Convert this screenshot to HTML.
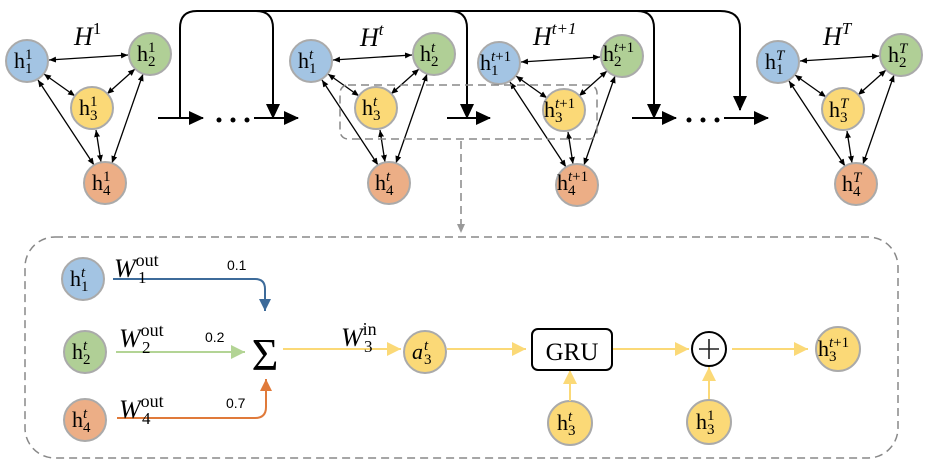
<!DOCTYPE html>
<html><head><meta charset="utf-8"><style>
body{margin:0;background:#fff}
svg{display:block;font-family:"Liberation Serif",serif}
.n{stroke:#aaa;stroke-width:2}
.b{fill:#a3c4e3}.g{fill:#b0cf96}.y{fill:#fbd977}.o{fill:#ecae86}
.e{stroke:#000;stroke-width:1.3;fill:none;marker-start:url(#as);marker-end:url(#ae)}
.h{font-size:22px}.s{font-size:15px}
</style></head><body>
<svg width="932" height="470" viewBox="0 0 932 470">
<defs>
<marker id="ae" markerWidth="8" markerHeight="8" refX="7" refY="4" orient="auto" markerUnits="userSpaceOnUse"><path d="M0,1 L7,4 L0,7z"/></marker>
<marker id="as" markerWidth="8" markerHeight="8" refX="1" refY="4" orient="auto" markerUnits="userSpaceOnUse"><path d="M8,1 L1,4 L8,7z"/></marker>
<marker id="big" markerWidth="16" markerHeight="16" refX="14" refY="8" orient="auto" markerUnits="userSpaceOnUse"><path d="M0,1 L15,8 L0,15z"/></marker>
<marker id="gr" markerWidth="10" markerHeight="10" refX="8" refY="5" orient="auto" markerUnits="userSpaceOnUse"><path d="M0,1 L9,5 L0,9z" fill="#999"/></marker>
<marker id="yb" markerWidth="16" markerHeight="16" refX="14" refY="8" orient="auto" markerUnits="userSpaceOnUse"><path d="M0,1 L14,8 L0,15z" fill="#fbd977"/></marker>
<marker id="bb" markerWidth="16" markerHeight="16" refX="12" refY="7" orient="auto" markerUnits="userSpaceOnUse"><path d="M0,1 L12,7 L0,13z" fill="#3d6b9a"/></marker>
<marker id="gb" markerWidth="16" markerHeight="16" refX="14" refY="8" orient="auto" markerUnits="userSpaceOnUse"><path d="M0,1 L14,8 L0,15z" fill="#b3d495"/></marker>
<marker id="ob" markerWidth="16" markerHeight="16" refX="12" refY="7" orient="auto" markerUnits="userSpaceOnUse"><path d="M0,1 L12,7 L0,13z" fill="#e07a3a"/></marker>
<g id="edges">
<line class="e" x1="49" y1="60" x2="128" y2="55"/>
<line class="e" x1="44" y1="74" x2="75" y2="96"/>
<line class="e" x1="135" y1="69" x2="107" y2="94"/>
<line class="e" x1="38" y1="80" x2="94" y2="165"/>
<line class="e" x1="143" y1="74" x2="112" y2="163"/>
<line class="e" x1="96" y1="130" x2="101" y2="162"/>
<circle class="n b" cx="27" cy="61" r="21"/>
<circle class="n g" cx="150" cy="54" r="21"/>
<circle class="n y" cx="92" cy="108" r="21"/>
<circle class="n o" cx="105" cy="183" r="21"/>
</g>
</defs>

<g stroke="#000" stroke-width="2" fill="none">
<path d="M180,118 V28 Q180,11 197,11 H720 Q740,11 740,28 V110" marker-end="url(#big)"/>
<path d="M256,11 Q273,11 273,28 V118" marker-end="url(#big)"/>
<path d="M254,118 H298" marker-end="url(#big)"/>
<path d="M158,118 H203" marker-end="url(#big)"/>
<path d="M450,11 Q467,11 467,28 V118" marker-end="url(#big)"/>
<path d="M447,118 H490" marker-end="url(#big)"/>
<path d="M637,11 Q654,11 654,28 V118" marker-end="url(#big)"/>
<path d="M632,118 H676" marker-end="url(#big)"/>
<path d="M724,118 H768" marker-end="url(#big)"/>
</g>
<g fill="#000"><circle cx="219" cy="120" r="2.5"/><circle cx="233" cy="120" r="2.5"/><circle cx="247" cy="120" r="2.5"/>
<circle cx="689" cy="120" r="2.5"/><circle cx="703" cy="120" r="2.5"/><circle cx="717" cy="120" r="2.5"/></g>

<use href="#edges"/>
<use href="#edges" transform="translate(284,0)"/>
<use href="#edges" transform="translate(472,2)"/>
<use href="#edges" transform="translate(751,1)"/>

<g font-style="italic" font-size="26">
<text x="74" y="45">H<tspan font-size="17" dy="-11" font-style="normal">1</tspan></text>
<text x="360" y="46">H<tspan font-size="17" dy="-11">t</tspan></text>
<text x="533" y="45">H<tspan font-size="17" dy="-11">t+1</tspan></text>
<text x="823" y="45">H<tspan font-size="17" dy="-11">T</tspan></text>
</g>

<text class="h" x="14" y="68">h</text><text class="s" x="25" y="59">1</text><text class="s" x="25" y="73">1</text>
<text class="h" x="137" y="61">h</text><text class="s" x="148" y="52">1</text><text class="s" x="148" y="66">2</text>
<text class="h" x="79" y="115">h</text><text class="s" x="90" y="106">1</text><text class="s" x="90" y="120">3</text>
<text class="h" x="92" y="190">h</text><text class="s" x="103" y="181">1</text><text class="s" x="103" y="195">4</text>

<text class="h" x="298" y="68">h</text><text class="s" x="309" y="59" font-style="italic">t</text><text class="s" x="309" y="73">1</text>
<text class="h" x="420" y="61">h</text><text class="s" x="431" y="52" font-style="italic">t</text><text class="s" x="431" y="66">2</text>
<text class="h" x="362" y="115">h</text><text class="s" x="373" y="106" font-style="italic">t</text><text class="s" x="373" y="120">3</text>
<text class="h" x="375" y="190">h</text><text class="s" x="386" y="181" font-style="italic">t</text><text class="s" x="386" y="195">4</text>

<text class="h" x="480" y="70">h</text><text class="s" x="491" y="61"><tspan font-style="italic">t</tspan>+1</text><text class="s" x="491" y="75">1</text>
<text class="h" x="603" y="61">h</text><text class="s" x="614" y="52"><tspan font-style="italic">t</tspan>+1</text><text class="s" x="614" y="66">2</text>
<text class="h" x="544" y="117">h</text><text class="s" x="555" y="108"><tspan font-style="italic">t</tspan>+1</text><text class="s" x="555" y="122">3</text>
<text class="h" x="557" y="190">h</text><text class="s" x="568" y="181"><tspan font-style="italic">t</tspan>+1</text><text class="s" x="568" y="195">4</text>

<text class="h" x="765" y="69">h</text><text class="s" x="776" y="60" font-style="italic">T</text><text class="s" x="776" y="74">1</text>
<text class="h" x="888" y="62">h</text><text class="s" x="899" y="53" font-style="italic">T</text><text class="s" x="899" y="67">2</text>
<text class="h" x="829" y="117">h</text><text class="s" x="840" y="108" font-style="italic">T</text><text class="s" x="840" y="122">3</text>
<text class="h" x="842" y="191">h</text><text class="s" x="853" y="182" font-style="italic">T</text><text class="s" x="853" y="196">4</text>

<g stroke="#888" stroke-width="1.5" fill="none" stroke-dasharray="8,5">
<rect x="340" y="85" width="257" height="54" rx="8"/>
<path d="M461,141 V232" marker-end="url(#gr)"/>
<rect x="25" y="237" width="873" height="221" rx="30"/>
</g>

<circle class="n b" cx="83" cy="279" r="21"/>
<circle class="n g" cx="85" cy="352" r="21"/>
<circle class="n o" cx="85" cy="420" r="21"/>
<circle class="n y" cx="425" cy="352" r="21"/>
<circle class="n y" cx="570" cy="423" r="22"/>
<circle class="n y" cx="709" cy="422" r="22"/>
<circle class="n y" cx="838" cy="349" r="22"/>

<path d="M113,279 H255 Q265,279 265,289 V311" stroke="#3d6b9a" stroke-width="2" fill="none" marker-end="url(#bb)"/>
<path d="M116,352 H245" stroke="#b3d495" stroke-width="2" fill="none" marker-end="url(#gb)"/>
<path d="M117,418 H255 Q266,418 266,407 V379" stroke="#e07a3a" stroke-width="2" fill="none" marker-end="url(#ob)"/>
<g stroke="#fbd977" stroke-width="2" fill="none">
<path d="M283,349 H401" marker-end="url(#yb)"/>
<path d="M447,349 H526" marker-end="url(#yb)"/>
<path d="M612,349 H689" marker-end="url(#yb)"/>
<path d="M732,349 H808" marker-end="url(#yb)"/>
<path d="M570,401 V370" marker-end="url(#yb)"/>
<path d="M709,399 V367" marker-end="url(#yb)"/>
</g>
<rect x="532" y="329" width="80" height="41" rx="6" fill="#fff" stroke="#000" stroke-width="2"/>
<text x="572" y="360" font-size="25" text-anchor="middle">GRU</text>
<circle cx="709" cy="349" r="17" fill="#fff" stroke="#000" stroke-width="2"/>
<path d="M699,349 H719 M709,339 V359" stroke="#222" stroke-width="1.6"/>
<text x="265" y="370" font-size="46" text-anchor="middle">Σ</text>

<g font-size="26" font-style="italic">
<text x="114" y="277">W<tspan font-size="18" font-style="normal" dy="-11">out</tspan></text>
<text x="119" y="347">W<tspan font-size="18" font-style="normal" dy="-11">out</tspan></text>
<text x="119" y="418">W<tspan font-size="18" font-style="normal" dy="-11">out</tspan></text>
<text x="341" y="346">W<tspan font-size="18" font-style="normal" dy="-11">in</tspan></text>
</g>
<g font-size="17">
<text x="138" y="283">1</text><text x="142" y="353">2</text><text x="142" y="424">4</text><text x="364" y="352">3</text>
</g>
<g font-family="Liberation Sans,sans-serif" font-size="14">
<text x="227" y="270">0.1</text><text x="205" y="342">0.2</text><text x="226" y="408">0.7</text>
</g>

<text class="h" x="70" y="286">h</text><text class="s" x="81" y="277" font-style="italic">t</text><text class="s" x="81" y="291">1</text>
<text class="h" x="72" y="359">h</text><text class="s" x="83" y="350" font-style="italic">t</text><text class="s" x="83" y="364">2</text>
<text class="h" x="72" y="427">h</text><text class="s" x="83" y="418" font-style="italic">t</text><text class="s" x="83" y="432">4</text>
<text class="h" x="412" y="359" font-style="italic">a</text><text class="s" x="424" y="350" font-style="italic">t</text><text class="s" x="424" y="364">3</text>
<text class="h" x="557" y="430">h</text><text class="s" x="568" y="421" font-style="italic">t</text><text class="s" x="568" y="435">3</text>
<text class="h" x="696" y="429">h</text><text class="s" x="707" y="420">1</text><text class="s" x="707" y="434">3</text>
<text class="h" x="818" y="356">h</text><text class="s" x="829" y="347"><tspan font-style="italic">t</tspan>+1</text><text class="s" x="829" y="361">3</text>
</svg>
</body></html>
